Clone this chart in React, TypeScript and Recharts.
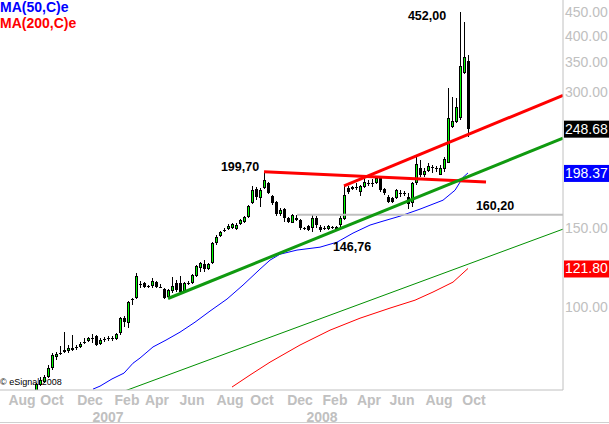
import React from 'react';
import { ComposedChart, Bar, Line, XAxis, YAxis, ReferenceDot } from 'recharts';

const FONT = 'Arial, "Liberation Sans", sans-serif';

// weekly candles, first visible week index
const firstWeek = 9;
const opens = [
  65.0, 67.2, 68.2, 70.0, 73.3, 77.5, 79.1, 80.3, 79.9, 80.3, 81.2, 81.6, 83.6, 84.1, 85.4, 86.3, 82.8, 84.9, 85.0, 85.2,
  85.0, 87.6, 94.5, 92.2, 103.6, 104.7, 112.4, 113.0, 111.3, 111.3, 113.6, 110.7, 109.6, 105.2, 108.5, 113.0, 113.0, 108.5, 113.0, 113.0,
  117.1, 122.0, 124.5, 121.4, 125.2, 138.6, 143.7, 148.0, 149.0, 149.7, 149.0, 152.8, 154.4, 158.3, 170.1, 182.8, 174.5, 183.7, 188.5, 176.3,
  171.0, 160.8, 165.0, 157.5, 153.6, 157.5, 155.9, 149.7, 151.3, 149.7, 157.5, 150.5, 149.7, 149.0, 150.3, 149.0, 152.0, 156.7, 183.7, 182.8,
  184.6, 180.0, 184.6, 188.5, 188.5, 188.5, 193.4, 182.8, 175.4, 174.5, 174.5, 179.0, 179.0, 175.4, 170.1, 188.5, 203.4, 196.3, 200.5, 204.4,
  203.4, 196.3, 202.4, 208.6, 250.8, 257.3, 262.6, 331.2, 351.5,
];
const highs = [
  68.0, 70.0, 70.7, 74.4, 79.1, 79.5, 82.0, 88.0, 82.4, 86.7, 82.4, 83.6, 85.4, 85.8, 87.1, 86.7, 85.4, 85.8, 86.3, 86.3,
  87.6, 95.0, 95.5, 103.1, 104.7, 118.9, 114.2, 113.6, 111.9, 116.0, 114.2, 112.4, 110.2, 109.6, 116.6, 114.8, 117.1, 113.6, 114.2, 118.3,
  123.9, 125.8, 127.1, 125.2, 139.3, 144.5, 147.5, 149.7, 152.8, 153.6, 153.6, 156.7, 159.2, 168.4, 185.6, 184.6, 183.7, 199.7, 189.5, 177.2,
  171.9, 165.8, 165.8, 158.3, 160.8, 160.0, 156.7, 150.5, 152.0, 160.8, 159.2, 152.0, 151.3, 152.0, 151.3, 151.3, 159.2, 185.6, 185.6, 185.6,
  188.5, 186.5, 194.4, 191.3, 192.4, 195.3, 194.4, 183.7, 177.2, 175.4, 182.8, 181.8, 180.9, 179.0, 189.5, 216.3, 211.9, 203.4, 208.6, 206.5,
  205.5, 206.5, 215.1, 306.2, 292.4, 290.9, 452.0, 428.5, 362.4,
];
const lows = [
  64.0, 66.8, 67.9, 69.6, 72.5, 76.3, 78.3, 79.1, 79.1, 79.9, 80.3, 81.2, 82.8, 83.6, 83.2, 82.0, 82.4, 83.6, 84.1, 84.1,
  84.5, 86.7, 90.2, 89.8, 101.0, 104.2, 110.2, 110.2, 110.2, 110.2, 110.2, 110.2, 104.2, 104.7, 107.4, 108.0, 107.4, 108.0, 111.9, 112.4,
  116.6, 119.6, 119.6, 120.8, 124.5, 137.2, 143.0, 146.8, 148.2, 149.0, 148.2, 152.0, 153.6, 157.5, 169.3, 172.7, 166.7, 183.0, 178.1, 168.4,
  159.2, 159.2, 154.4, 153.6, 153.6, 155.2, 148.2, 148.2, 147.5, 146.76, 149.7, 147.0, 148.2, 148.2, 149.0, 148.2, 149.7, 155.9, 178.1, 181.8,
  181.8, 176.3, 183.7, 185.6, 184.6, 187.5, 180.0, 177.2, 170.1, 170.1, 173.6, 175.4, 176.3, 165.0, 166.7, 186.5, 194.4, 194.4, 199.5, 198.4,
  199.5, 196.3, 199.5, 208.6, 249.5, 256.0, 260.0, 329.0, 238.3,
];
const closes = [
  67.5, 68.9, 70.0, 73.3, 78.3, 78.7, 78.7, 79.5, 81.2, 81.2, 81.6, 82.8, 83.2, 85.4, 85.5, 82.4, 84.5, 85.0, 85.2, 85.6,
  87.1, 94.5, 92.6, 102.6, 104.2, 117.1, 112.6, 110.7, 110.7, 114.2, 110.7, 110.5, 104.7, 109.1, 111.3, 109.1, 108.0, 113.0, 113.2, 117.8,
  123.3, 125.2, 121.4, 124.5, 138.6, 143.0, 146.8, 148.2, 151.3, 152.8, 152.0, 155.9, 158.3, 167.5, 181.8, 175.4, 181.8, 191.3, 179.0, 170.1,
  160.8, 164.1, 157.5, 154.4, 160.0, 155.9, 149.7, 149.5, 148.2, 157.5, 152.0, 148.2, 149.9, 151.3, 150.5, 150.5, 157.5, 177.2, 180.0, 184.6,
  184.8, 185.6, 189.5, 188.7, 188.3, 193.4, 181.8, 179.0, 171.0, 171.0, 181.8, 179.2, 178.8, 169.3, 188.5, 208.0, 196.3, 200.5, 205.5, 204.6,
  203.6, 203.4, 213.0, 262.6, 258.6, 277.7, 342.5, 358.7, 248.68,
];

// moving averages [week, value]
const ma50: [number, number][] = [
  [23.25, 65.8], [25, 66.8], [28, 69.3], [31, 71.4], [33.25, 75.1], [35, 77.1], [38.25, 81.6], [41.5, 84.5],
  [45, 88.0], [48.75, 92.6], [52.5, 98.0], [56.75, 104.2], [60.75, 111.9], [65, 121.4], [67.5, 127.1], [70, 131.0],
  [74.25, 133.8], [80, 135.8], [84.25, 139.3], [88.25, 145.9], [92.5, 152.0], [95, 154.4], [100, 159.1], [105, 164.9],
  [110.75, 172.6], [113.75, 181.6], [115.75, 193.9], [117, 198.37],
];
const ma200: [number, number][] = [
  [58, 66.5], [62.5, 70.7], [67.5, 75.5], [75, 82.4], [82.5, 88.9], [90, 94.5], [97.5, 99.5], [103.75, 103.6],
  [108.25, 108.0], [113.25, 113.6], [117, 121.80],
];

// drawn studies [week, value]
const greenTrend: [number, number][] = [[42, 104.5], [140.75, 236.9]];
const redTrend: [number, number][] = [[86, 185.6], [140.75, 294.9]];
const resistance: [number, number][] = [[66, 199.7], [121.5, 189.5]];
const support: [number, number][] = [[74.25, 160.2], [140.75, 160.2]];
const longTrend: [number, number][] = [[30, 64.6], [140.75, 148.9]];

const monthTicks = [5.5, 13, 22.5, 31.75, 39.25, 48, 57.5, 65.5, 75, 83.75, 92.25, 100.5, 109.75, 118.5];
const monthLabels = ['Aug', 'Oct', 'Dec', 'Feb', 'Apr', 'Jun', 'Aug', 'Oct', 'Dec', 'Feb', 'Apr', 'Jun', 'Aug', 'Oct'];
const yearTicks = [27, 80.5];
const yearLabels = ['2007', '2008'];
const priceTicks = [100, 150, 300, 350, 400, 450];

const xMax = 140.75;
const yDomain: [number, number] = [65.5, 479.6];

const candles = opens.map((o, i) => ({
  w: firstWeek + i,
  o,
  h: highs[i],
  l: lows[i],
  c: closes[i],
  range: [lows[i], highs[i]],
}));

const toPts = (a: [number, number][]) => a.map(([w, v]) => ({ w, v }));

const Candle = (props: any) => {
  const { x, y, width, height, payload } = props;
  if (x == null || y == null || !payload) return null;
  const cx = Math.round(x + width / 2);
  const top = Math.min(y, y + height);
  const hh = Math.abs(height);
  const lnH = Math.log(payload.h);
  const lnL = Math.log(payload.l);
  const span = lnH - lnL || 1;
  const py = (v: number) => top + ((lnH - Math.log(v)) / span) * hh;
  const yo = py(payload.o);
  const yc = py(payload.c);
  const bt = Math.round(Math.min(yo, yc));
  const bb = Math.max(Math.round(Math.max(yo, yc)), bt + 1);
  const up = payload.c > payload.o;
  const wt = Math.round(top);
  const wb = Math.max(Math.round(top + hh), wt + 1);
  return (
    <g>
      <rect x={cx} y={wt} width={1} height={wb - wt} fill="#000" />
      <rect x={cx - 1} y={bt} width={3} height={bb - bt} fill="#000" />
      {up && bb - bt > 2 && <rect x={cx} y={bt + 1} width={1} height={bb - bt - 2} fill="#00ff00" />}
    </g>
  );
};

const anno = (text: string, dx: number, dy: number) => (p: any) => (
  <text
    x={p.cx + dx}
    y={p.cy + dy}
    textAnchor="middle"
    dominantBaseline="central"
    fontFamily={FONT}
    fontWeight="bold"
    fontSize={12.5}
    fill="#000"
  >
    {text}
  </text>
);

const valueBox = (text: string, bg: string) => (p: any) => (
  <g>
    <rect x={p.cx + 1} y={p.cy - 8} width={50} height={17} fill={bg} />
    <text x={p.cx + 2} y={p.cy + 5} fontFamily={FONT} fontSize={14} fill="#fff">
      {text}
    </text>
  </g>
);

export default function App() {
  const lastClose = closes[closes.length - 1];
  const lastMa50 = ma50[ma50.length - 1][1];
  const lastMa200 = ma200[ma200.length - 1][1];
  const hiIdx = highs.indexOf(Math.max(...highs));
  return (
    <div style={{ position: 'absolute', left: 0, top: 0, width: 609, height: 424, overflow: 'hidden', background: '#fff' }}>
      <div style={{ position: 'absolute', left: 0, top: 377, fontFamily: FONT, fontSize: 9, color: '#000', whiteSpace: 'nowrap' }}>
        © eSignal 2008
      </div>
      <div style={{ position: 'absolute', left: 0, top: 0 }}>
        <ComposedChart width={609} height={424} data={candles} margin={{ top: 0, right: 0, bottom: 0, left: 0 }}>
          <XAxis
            xAxisId="m"
            dataKey="w"
            type="number"
            domain={[0, xMax]}
            allowDataOverflow
            ticks={monthTicks}
            interval={0}
            tickFormatter={(v: number) => monthLabels[monthTicks.indexOf(v)]}
            height={16}
            tickLine={false}
            tickSize={0}
            tickMargin={5}
            stroke="#c0c0c0"
            tick={{ fill: '#c0c0c0', fontSize: 14, fontWeight: 'bold', fontFamily: FONT }}
          />
          <XAxis
            xAxisId="yr"
            dataKey="w"
            type="number"
            domain={[0, xMax]}
            allowDataOverflow
            ticks={yearTicks}
            interval={0}
            tickFormatter={(v: number) => yearLabels[yearTicks.indexOf(v)]}
            height={18}
            axisLine={false}
            tickLine={false}
            tickSize={0}
            tickMargin={6}
            tick={{ fill: '#c0c0c0', fontSize: 14, fontWeight: 'bold', fontFamily: FONT }}
          />
          <YAxis
            orientation="right"
            scale="log"
            domain={yDomain}
            allowDataOverflow
            ticks={priceTicks}
            interval={0}
            width={46}
            tickLine={false}
            tickSize={0}
            tickMargin={2}
            stroke="#c0c0c0"
            tickFormatter={(v: number) => v.toFixed(2)}
            tick={{ fill: '#c0c0c0', fontSize: 14, fontFamily: FONT, textAnchor: 'start' }}
          />
          <Bar xAxisId="m" dataKey="range" barSize={3} shape={<Candle />} isAnimationActive={false} />
          <Line xAxisId="m" data={toPts(longTrend)} dataKey="v" stroke="#009000" strokeWidth={1} dot={false} activeDot={false} isAnimationActive={false} />
          <Line xAxisId="m" data={toPts(ma200)} dataKey="v" stroke="#ff0000" strokeWidth={1} dot={false} activeDot={false} isAnimationActive={false} />
          <Line xAxisId="m" data={toPts(ma50)} dataKey="v" stroke="#0000ff" strokeWidth={1} dot={false} activeDot={false} isAnimationActive={false} />
          <Line xAxisId="m" data={toPts(support)} dataKey="v" stroke="#c0c0c0" strokeWidth={2} dot={false} activeDot={false} isAnimationActive={false} />
          <Line xAxisId="m" data={toPts(resistance)} dataKey="v" stroke="#ff0000" strokeWidth={3} dot={false} activeDot={false} isAnimationActive={false} />
          <Line xAxisId="m" data={toPts(greenTrend)} dataKey="v" stroke="#109a10" strokeWidth={3} dot={false} activeDot={false} isAnimationActive={false} />
          <Line xAxisId="m" data={toPts(redTrend)} dataKey="v" stroke="#ff0000" strokeWidth={3} dot={false} activeDot={false} isAnimationActive={false} />
          <ReferenceDot xAxisId="m" x={66} y={199.7} shape={anno('199,70', -24, -5)} />
          <ReferenceDot xAxisId="m" x={78} y={146.76} shape={anno('146,76', 40, 15)} />
          <ReferenceDot xAxisId="m" x={123.75} y={support[0][1]} shape={anno('160,20', 0, -9)} />
          <ReferenceDot xAxisId="m" x={firstWeek + hiIdx} y={highs[hiIdx]} shape={anno('452,00', -33, 4)} />
          <ReferenceDot xAxisId="m" x={xMax} y={lastClose} shape={valueBox(lastClose.toFixed(2), '#000')} />
          <ReferenceDot xAxisId="m" x={xMax} y={lastMa50} shape={valueBox(lastMa50.toFixed(2), '#0000ff')} />
          <ReferenceDot xAxisId="m" x={xMax} y={lastMa200} shape={valueBox(lastMa200.toFixed(2), '#ff0000')} />
        </ComposedChart>
      </div>
      <div style={{ position: 'absolute', left: 0, top: -1, fontFamily: FONT, fontWeight: 'bold', fontSize: 14, lineHeight: '16px' }}>
        <div style={{ color: '#0000ff' }}>MA(50,C)e</div>
        <div style={{ color: '#ff0000' }}>MA(200,C)e</div>
      </div>
      <div style={{ position: 'absolute', left: 0, top: 422, width: 609, height: 1, background: '#d0d0d0' }} />
    </div>
  );
}
